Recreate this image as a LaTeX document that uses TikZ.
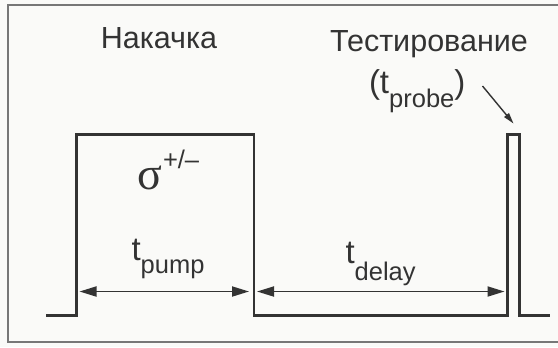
\documentclass[tikz,border=0pt]{standalone}
\usepackage{fontspec}
\setmainfont{Liberation Sans}
\newfontfamily\serifgr{Liberation Serif}
\usetikzlibrary{arrows.meta}
\definecolor{ink}{HTML}{333333}
\definecolor{bg}{HTML}{FAFAF8}
\definecolor{frame}{HTML}{777777}
\tikzset{
  lbl/.style={inner sep=0pt, outer sep=0pt, text=ink},
  pulse/.style={draw=ink, line width=2.8bp, line join=miter},
  dim/.style={draw=ink, line width=1.8bp, {Triangle[length=17bp,width=10bp]}-{Triangle[length=17bp,width=10bp]}},
  pointer/.style={draw=ink, line width=1.4bp, -{Triangle[length=11bp,width=6bp]}}
}
\newcommand{\headfs}{\fontsize{30.5bp}{36bp}\selectfont}
\newcommand{\bigfs}{\fontsize{33bp}{38bp}\selectfont}
\newcommand{\subfs}{\fontsize{25.5bp}{30bp}\selectfont}
\begin{document}
\begin{tikzpicture}[x=1bp,y=-1bp]
\useasboundingbox (0,0) rectangle (558,347);
\fill[bg] (0,0) rectangle (558,347);
\draw[frame, line width=1.4bp] (562,5) -- (8,5) -- (8,342) -- (562,342);

% waveform
\coordinate (w0) at (46,315.5);
\coordinate (w1) at (76.5,315.5);
\coordinate (w2) at (76.5,134.5);
\coordinate (w3) at (254,134.5);
\coordinate (w4) at (254,315.5);
\coordinate (w5) at (507.5,315.5);
\coordinate (w6) at (507.5,134.5);
\coordinate (w7) at (519.5,134.5);
\coordinate (w8) at (519.5,315.5);
\coordinate (w9) at (550,315.5);
\draw[pulse] (w0) -- (w1) -- (w2) -- (w3) -- (w4) -- (w5) -- (w6) -- (w7) -- (w8) -- (w9);

% dimension arrows
\coordinate (pa) at (79.5,291.5);
\coordinate (pb) at (249,291.5);
\coordinate (da) at (257,291.5);
\coordinate (db) at (504.5,291.5);
\draw[dim] (pa) -- (pb);
\draw[dim] (da) -- (db);

% labels
\node[lbl, anchor=base, font=\headfs] (pump) at (159,48.5) {Накачка};
\node[lbl, anchor=base, font=\headfs] (probe) at (429,51) {Тестирование};
\node[lbl, anchor=base west] (tprobe) at (369,93.5) {\bigfs(t\raisebox{-14bp}{\subfs probe})};
\node[lbl, anchor=base west] (sigma) at (137,189) {\fontsize{46bp}{50bp}\selectfont\serifgr σ};
\node[lbl, anchor=base west] (pm) at (163,168) {\subfs +/–};
\node[lbl, anchor=base west] (tpump) at (131.5,260) {\bigfs t\raisebox{-13bp}{\subfs pump}};
\node[lbl, anchor=base west] (tdelay) at (345.5,263) {\bigfs t\raisebox{-17bp}{\subfs delay}};

% pointer to probe pulse
\coordinate (ps) at (482.5,86);
\coordinate (pe) at (513.5,123.5);
\draw[pointer] (ps) -- (pe);
\end{tikzpicture}
\end{document}
